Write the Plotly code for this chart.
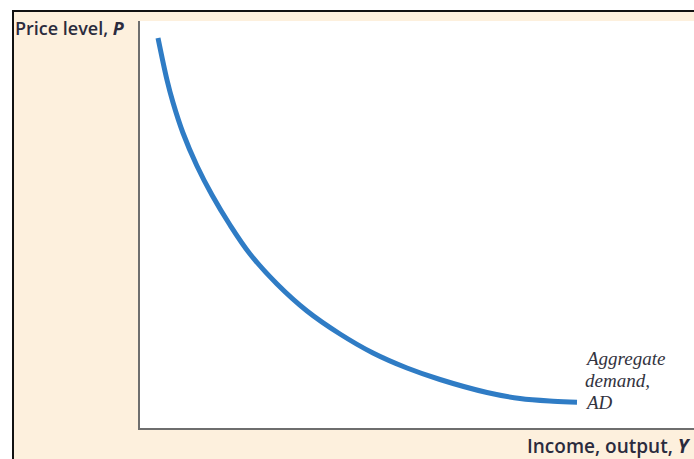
import plotly.graph_objects as go

# Aggregate demand curve (income/output on x, price level on y), arbitrary units
income = [18, 27, 33, 43, 57, 72, 90, 110, 137, 167, 200, 233, 267, 300, 347, 380, 413, 437]
price = [390, 348, 325.5, 295, 262, 233, 203, 174, 144, 117, 94, 75, 60, 48.5, 35.5, 29.5, 26.8, 25.8]

x_label = "Income, output, <b><i>Y</i></b>"
y_label = "Price level, <b><i>P</i></b>"
curve_label_lines = ["Aggregate", "demand,", "AD"]

W, H = 694, 459
L, R, T, B = 140, 0, 21, 31
pw, ph = W - L - R, H - T - B


def px(x):
    return (x - L) / pw


def py(y):
    return (H - B - y) / ph


fig = go.Figure()
fig.add_trace(go.Scatter(
    x=income, y=price, mode="lines",
    line=dict(color="#2f7cc5", width=5, shape="spline", smoothing=1.0),
    hoverinfo="skip", showlegend=False,
))

shapes = [
    dict(type="rect", xref="paper", yref="paper", x0=px(12), x1=px(694), y0=py(10), y1=py(459),
         fillcolor="#fdf0dd", line=dict(width=0), layer="below"),
    dict(type="rect", xref="paper", yref="paper", x0=0, x1=1, y0=0, y1=1,
         fillcolor="white", line=dict(width=0), layer="below"),
    dict(type="line", xref="paper", yref="paper", x0=px(12), x1=px(694), y0=py(11), y1=py(11),
         line=dict(color="#111111", width=2), layer="below"),
    dict(type="line", xref="paper", yref="paper", x0=px(13), x1=px(13), y0=py(10), y1=py(459),
         line=dict(color="#111111", width=2), layer="below"),
]

font_fam = "Open Sans, sans-serif"
annotations = [
    dict(text=y_label, xref="paper", yref="paper", x=px(13), y=py(28), xanchor="left", yanchor="middle",
         showarrow=False, font=dict(family=font_fam, size=18, color="#2b2b3d", weight=600)),
    dict(text=x_label, xref="paper", yref="paper", x=px(693), y=py(446), xanchor="right", yanchor="middle",
         showarrow=False, font=dict(family=font_fam, size=19, color="#2b2b3d", weight=600)),
]
for i, line_text in enumerate(curve_label_lines):
    annotations.append(dict(
        text="<i>" + line_text + "</i>", xref="paper", yref="paper", x=px(583), y=py(358 + 22 * i),
        xanchor="left", yanchor="middle", align="left", showarrow=False,
        font=dict(family="Liberation Serif, serif", size=19, color="#333340"),
    ))

fig.update_layout(
    width=W, height=H,
    margin=dict(l=L, r=R, t=T, b=B, pad=0),
    paper_bgcolor="white",
    plot_bgcolor="rgba(0,0,0,0)",
    shapes=shapes,
    annotations=annotations,
    xaxis=dict(range=[0, pw], showgrid=False, zeroline=False, showticklabels=False, ticks="",
               showline=True, linecolor="#6e6e6e", linewidth=2, fixedrange=True),
    yaxis=dict(range=[0, ph], showgrid=False, zeroline=False, showticklabels=False, ticks="",
               showline=True, linecolor="#6e6e6e", linewidth=2, fixedrange=True),
)

fig.write_html(
    "out.html",
    config=dict(displayModeBar=False),
    post_script="document.body.style.margin='0';document.body.style.overflow='hidden';",
)
